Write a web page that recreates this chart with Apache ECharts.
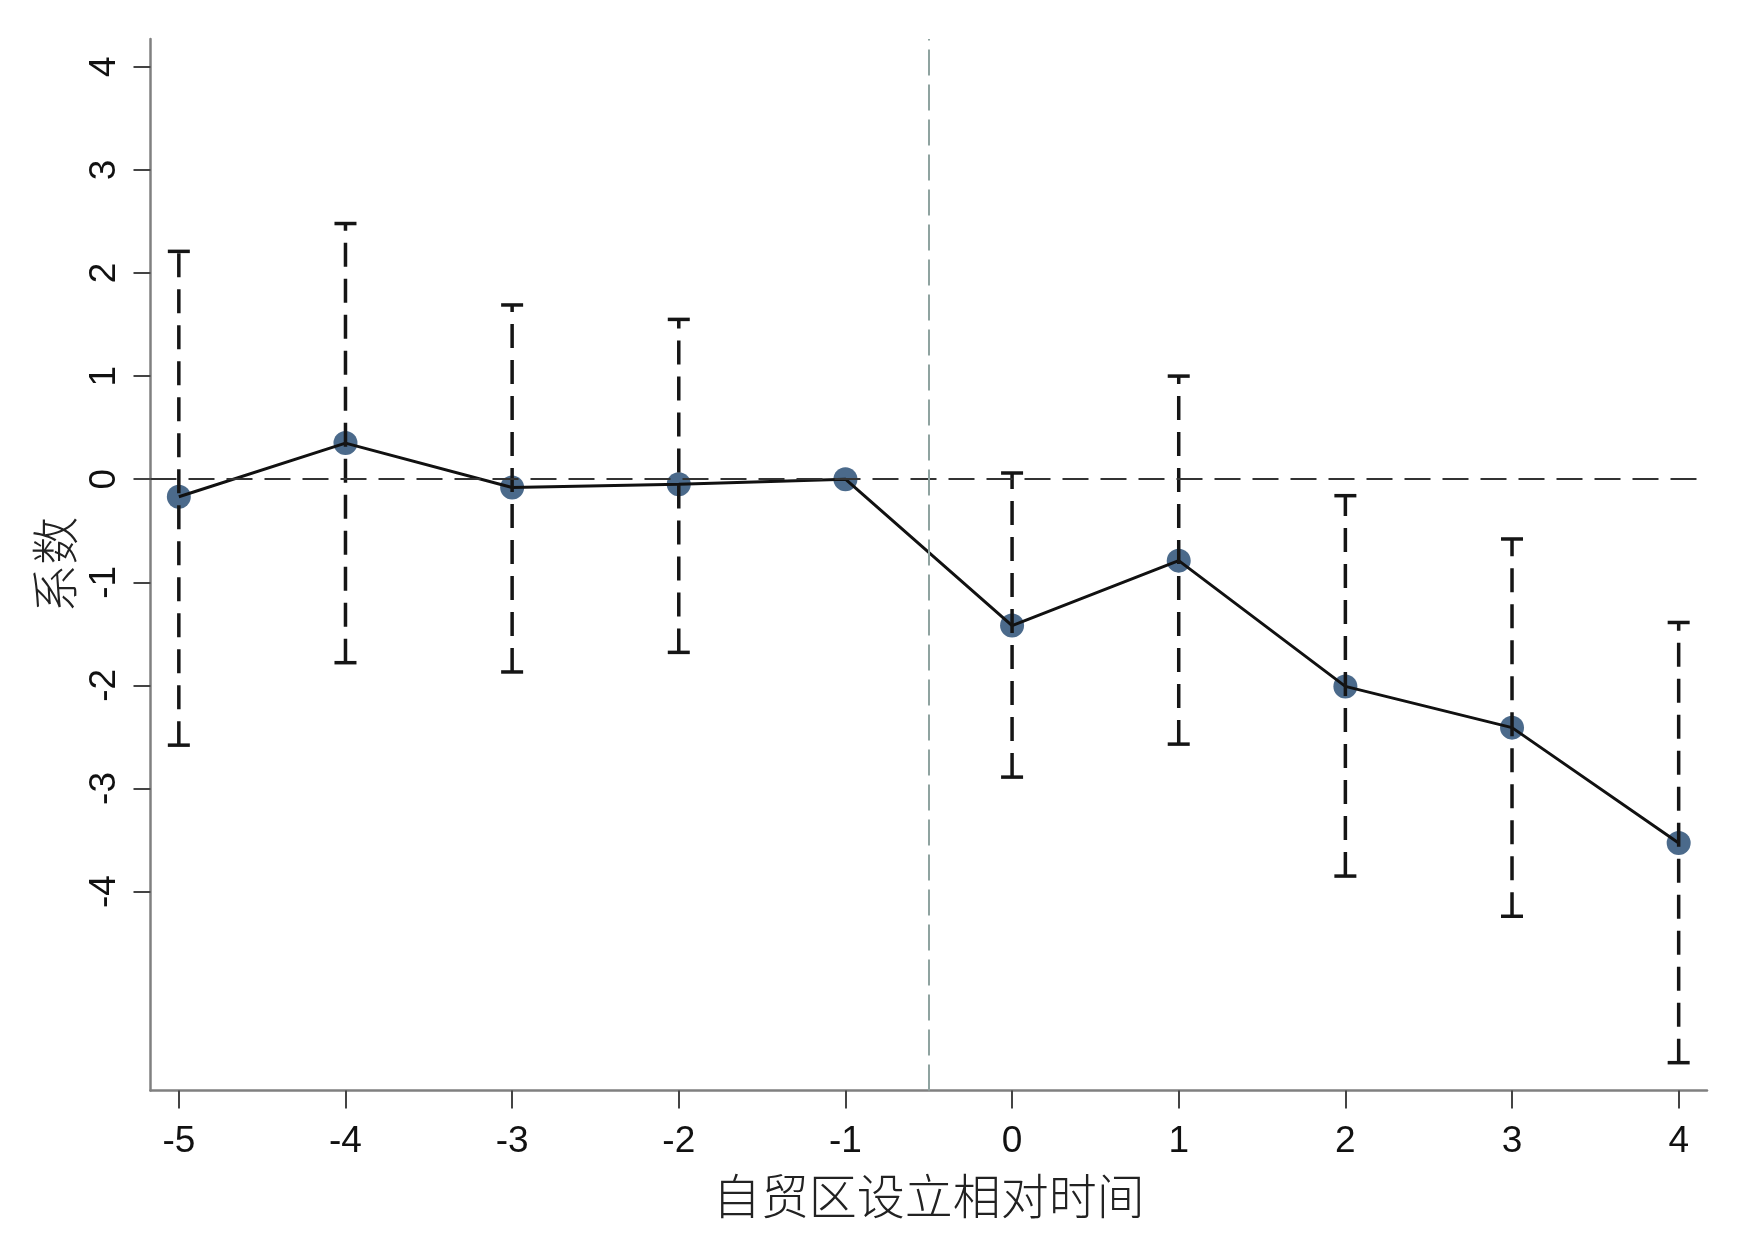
<!DOCTYPE html>
<html><head><meta charset="utf-8">
<script src="https://cdn.jsdelivr.net/npm/echarts@6/dist/echarts.min.js"></script>
<style>html,body{margin:0;padding:0;background:#fff}#chart{width:1761px;height:1248px}</style>
</head><body><div id="chart"></div>
<script>
const periods = [-5, -4, -3, -2, -1, 0, 1, 2, 3, 4];
const coef    = [-0.17, 0.35, -0.08, -0.05, 0, -1.42, -0.79, -2.01, -2.41, -3.53];
const ciLow   = [-2.58, -1.78, -1.87, -1.68, 0, -2.89, -2.57, -3.85, -4.24, -5.66];
const ciHigh  = [2.21, 2.48, 1.69, 1.55, 0, 0.06, 1.00, -0.16, -0.58, -1.39];
const xTicks  = [-5, -4, -3, -2, -1, 0, 1, 2, 3, 4];
const yTicks  = [-4, -3, -2, -1, 0, 1, 2, 3, 4];
const xTitle  = '自贸区设立相对时间';
const yTitle  = '系数';
const eventLine = -0.5;

const chart = echarts.init(document.getElementById('chart'), null, {renderer: 'canvas'});
const points = periods.map((p, i) => [p, coef[i]]);
const bars = periods.map((p, i) => [p, ciLow[i], ciHigh[i]]).filter(d => d[1] !== d[2]);

const tickFont = {fontSize: 37, color: '#111', fontFamily: 'Liberation Sans, Arial, sans-serif'};
const cjkFont = {fontSize: 48, color: '#222', fontFamily: 'Noto Sans CJK SC', fontWeight: 300};

const option = {
  animation: false,
  backgroundColor: '#fff',
  grid: {left: 150.5, right: 54, top: 39, bottom: 157.5, containLabel: false},
  xAxis: {
    type: 'value', min: -5.17, max: 4.17,
    name: xTitle, nameLocation: 'middle', nameGap: 81, nameTextStyle: cjkFont,
    axisLine: {onZero: false, lineStyle: {color: '#808080', width: 2.5}},
    axisTick: {show: true, customValues: xTicks, length: 18, lineStyle: {color: '#444', width: 2}},
    axisLabel: Object.assign({customValues: xTicks, margin: 33}, tickFont),
    splitLine: {show: false}
  },
  yAxis: {
    type: 'value', min: -5.93, max: 4.27,
    name: yTitle, nameLocation: 'middle', nameGap: 70, nameRotate: 90, nameTextStyle: cjkFont,
    axisLine: {onZero: false, lineStyle: {color: '#808080', width: 2.5}},
    axisTick: {show: true, customValues: yTicks, length: 17, lineStyle: {color: '#444', width: 2}},
    axisLabel: Object.assign({customValues: yTicks, margin: 27, rotate: 90}, tickFont),
    splitLine: {show: false}
  },
  series: [
    {
      type: 'line', data: [], z: 1, silent: true,
      markLine: {
        silent: true, symbol: 'none', label: {show: false}, animation: false,
        data: [
          {yAxis: 0, lineStyle: {color: '#333', width: 2, type: [26, 12]}},
          {xAxis: eventLine, lineStyle: {color: '#8fa3a0', width: 2, type: [26, 9]}}
        ]
      }
    },
    {
      type: 'scatter', data: points, z: 2, symbol: 'circle', symbolSize: 24,
      itemStyle: {color: '#4b6a8b', opacity: 1}
    },
    {
      type: 'line', data: points, z: 3, showSymbol: false, symbol: 'none',
      lineStyle: {color: '#111', width: 3}
    },
    {
      type: 'custom', data: bars, z: 4,
      encode: {x: 0, y: [1, 2]},
      renderItem: function (params, api) {
        const x = api.value(0);
        const lo = api.coord([x, api.value(1)]);
        const hi = api.coord([x, api.value(2)]);
        const hw = 11;
        const st = {stroke: '#151515', lineWidth: 3.5, fill: null};
        return {
          type: 'group',
          children: [
            {type: 'line', shape: {x1: lo[0], y1: lo[1], x2: hi[0], y2: hi[1]}, style: Object.assign({}, st, {lineDash: [24, 12]})},
            {type: 'line', shape: {x1: lo[0] - hw, y1: lo[1], x2: lo[0] + hw, y2: lo[1]}, style: st},
            {type: 'line', shape: {x1: hi[0] - hw, y1: hi[1], x2: hi[0] + hw, y2: hi[1]}, style: st}
          ]
        };
      }
    }
  ]
};
chart.setOption(option);
</script>
</body></html>
